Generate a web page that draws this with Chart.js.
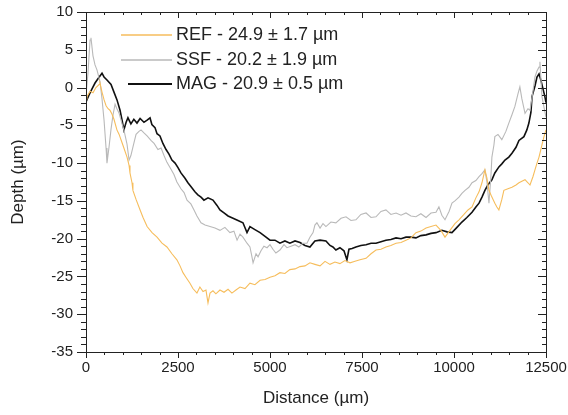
<!DOCTYPE html>
<html lang="en">
  <head>
    <meta charset="UTF-8" />
    <title>Depth profiles</title>
    <style>
      html, body { margin: 0; padding: 0; background: #fff; }
      #wrap { width: 568px; height: 415px; }
    </style>
  </head>
  <body>
    <div id="wrap">
      <canvas id="chart" width="568" height="415"></canvas>
    </div>
    <script src="https://cdn.jsdelivr.net/npm/chart.js"></script>
    <script>
      // values (distance in µm, depth in µm)
      const labels = ["REF - 24.9 \u00b1 1.7 \u00b5m", "SSF - 20.2 \u00b1 1.9 \u00b5m", "MAG - 20.9 \u00b1 0.5 \u00b5m"];

      const refX = [0, 25, 110, 190, 270, 355, 380, 435, 490, 545, 600, 650, 705, 760, 840, 900, 980, 1030, 1115, 1170,
        1195, 1250, 1275, 1360, 1470, 1550, 1660, 1795, 1930, 2065, 2200, 2335, 2470, 2555, 2635, 2715, 2825, 2905, 3015, 3095,
        3180, 3260, 3315, 3370, 3450, 3530, 3640, 3750, 3860, 3965, 4075, 4185, 4320, 4455, 4590, 4730, 4865, 5000, 5135, 5270,
        5405, 5540, 5680, 5815, 5950, 6085, 6220, 6360, 6495, 6630, 6765, 6900, 7035, 7175, 7310, 7445, 7610, 7745, 7880, 8015,
        8150, 8285, 8425, 8560, 8695, 8830, 8965, 9100, 9240, 9375, 9510, 9645, 9755, 9890, 10025, 10135, 10270, 10380, 10490, 10595,
        10680, 10760, 10840, 10895, 10950, 11030, 11110, 11165, 11220, 11300, 11355, 11465, 11575, 11685, 11765, 11845, 11930, 12010, 12065, 12145,
        12200, 12255, 12310, 12390, 12445, 12500];
      const refY = [-1.5, -1.2, -0.5, -0.7, 0.0, 0.4, 0.6, -0.6, -1.6, -2.4, -2.8, -3.0, -3.5, -4.2, -5.6, -6.2, -7.3, -8.0, -9.2, -10.3,
        -11.3, -12.6, -13.6, -14.8, -16.2, -17.2, -18.4, -19.2, -19.8, -20.6, -21.1, -22.0, -22.8, -23.6, -24.5, -25.1, -25.9, -26.6, -27.2, -26.4,
        -27.0, -26.8, -28.5, -27.2, -26.9, -27.3, -26.8, -27.1, -26.7, -27.2, -26.8, -26.4, -26.6, -25.9, -26.1, -25.5, -25.4, -25.1, -24.9, -24.5,
        -24.6, -24.1, -24.0, -23.7, -23.6, -23.2, -23.4, -23.6, -23.0, -23.4, -23.1, -23.3, -22.9, -23.2, -23.0, -22.8, -22.6, -22.0, -21.5, -21.4,
        -21.1, -20.9, -20.6, -20.5, -20.2, -19.9, -19.2, -19.0, -18.6, -18.4, -18.2, -18.9, -19.8, -18.9, -18.0, -17.5, -16.8, -16.2, -15.8, -14.6,
        -13.8, -12.6, -10.9, -12.0, -13.6, -14.5, -15.3, -15.8, -16.2, -14.8, -13.6, -13.4, -13.2, -12.9, -12.6, -12.4, -12.2, -12.6, -12.9, -11.8,
        -10.9, -10.0, -9.2, -7.6, -6.5, -5.6];

      const ssfX = [0, 55, 110, 135, 190, 245, 300, 380, 435, 490, 545, 570, 625, 680, 735, 790, 840, 900, 980, 1030,
        1115, 1170, 1220, 1275, 1360, 1440, 1495, 1575, 1660, 1765, 1850, 1955, 2040, 2120, 2200, 2310, 2390, 2470, 2580, 2665,
        2745, 2850, 2935, 3015, 3125, 3235, 3370, 3505, 3640, 3775, 3910, 4020, 4105, 4185, 4265, 4375, 4455, 4510, 4540, 4620,
        4675, 4755, 4835, 4920, 5000, 5080, 5160, 5270, 5380, 5460, 5570, 5680, 5785, 5895, 6005, 6085, 6170, 6220, 6275, 6360,
        6440, 6520, 6655, 6790, 6930, 7065, 7200, 7335, 7470, 7610, 7745, 7880, 8015, 8150, 8285, 8425, 8560, 8695, 8830, 8965,
        9100, 9240, 9375, 9510, 9590, 9670, 9755, 9865, 9945, 10025, 10135, 10215, 10300, 10405, 10490, 10595, 10680, 10760, 10840, 10895,
        10950, 11000, 11030, 11085, 11110, 11195, 11300, 11410, 11490, 11575, 11655, 11740, 11790, 11845, 11930, 12010, 12065, 12145, 12200, 12255,
        12310, 12335, 12390, 12445, 12500];
      const ssfY = [-1.0, 2.0, 6.3, 6.6, 4.2, 3.0, 2.3, 0.8, -1.5, -4.3, -8.0, -10.0, -7.9, -5.5, -3.6, -2.2, -2.8, -3.4, -4.8, -5.6,
        -7.5, -9.6, -9.0, -7.9, -6.2, -5.8, -5.6, -6.0, -6.4, -7.0, -7.4, -8.2, -8.0, -9.0, -9.9, -10.8, -11.5, -12.5, -13.4, -13.9,
        -14.9, -15.4, -16.2, -17.0, -17.9, -18.2, -18.4, -18.6, -18.9, -18.5, -19.2, -19.0, -20.2, -19.4, -19.8, -20.6, -21.1, -22.4, -23.2, -22.0,
        -22.4, -21.6, -21.0, -21.2, -20.8, -21.4, -21.9, -21.5, -20.8, -21.2, -21.0, -20.8, -21.1, -20.6, -20.6, -19.8, -19.2, -18.2, -17.9, -18.6,
        -18.0, -18.4, -17.8, -17.9, -17.3, -17.1, -17.6, -17.5, -16.8, -16.6, -17.2, -17.1, -16.4, -16.2, -16.8, -16.6, -16.9, -16.6, -17.0, -17.1,
        -16.7, -17.2, -16.6, -16.5, -15.8, -16.9, -17.5, -16.4, -15.3, -15.0, -14.5, -14.0, -13.6, -13.2, -12.6, -12.3, -11.8, -11.4, -10.9, -12.5,
        -15.3, -12.0, -9.2, -7.6, -6.5, -6.2, -6.9, -5.8, -4.7, -3.6, -2.5, -0.8, 0.1, -1.5, -3.4, -2.8, -3.0, -0.5, 1.4, 2.2,
        2.7, 3.4, -1.2, -2.6, -3.9];

      const magX = [0, 80, 160, 245, 330, 435, 490, 570, 680, 760, 840, 925, 980, 1030, 1090, 1140, 1220, 1300, 1385, 1470,
        1575, 1660, 1740, 1790, 1875, 1930, 2010, 2090, 2175, 2255, 2335, 2420, 2500, 2580, 2690, 2770, 2850, 2960, 3040, 3125,
        3205, 3315, 3450, 3560, 3640, 3750, 3860, 3995, 4130, 4265, 4375, 4455, 4590, 4730, 4865, 5000, 5135, 5270, 5405, 5540,
        5680, 5815, 5950, 6085, 6220, 6360, 6520, 6630, 6710, 6790, 6900, 7010, 7090, 7145, 7230, 7335, 7470, 7610, 7745, 7880,
        8015, 8150, 8285, 8425, 8560, 8695, 8830, 8965, 9100, 9240, 9375, 9510, 9670, 9810, 9945, 10080, 10215, 10350, 10490, 10595,
        10680, 10760, 10840, 10920, 11030, 11110, 11220, 11300, 11385, 11490, 11575, 11685, 11765, 11900, 11980, 12035, 12090, 12120, 12200, 12255,
        12310, 12360, 12420, 12470, 12500];
      const magY = [-1.9, -1.0, -0.2, 0.6, 1.2, 1.9, 1.4, 1.0, 0.4, -0.6, -1.6, -3.0, -4.3, -5.6, -4.6, -4.0, -4.8, -4.2, -4.7, -4.1,
        -4.6, -4.3, -4.0, -4.9, -5.3, -6.1, -6.4, -7.4, -8.2, -8.8, -9.6, -10.0, -10.6, -11.3, -12.0, -12.6, -13.1, -13.8, -14.2, -14.5,
        -14.9, -14.6, -14.9, -15.6, -16.2, -16.6, -17.0, -17.3, -17.6, -17.9, -19.2, -18.4, -18.8, -19.2, -19.7, -20.2, -20.2, -20.6, -20.3, -20.6,
        -20.3, -20.5, -20.9, -21.1, -20.3, -20.2, -20.3, -20.9, -21.1, -21.5, -21.2, -21.6, -22.8, -21.4, -21.3, -21.1, -20.9, -20.8, -20.6, -20.6,
        -20.4, -20.2, -20.1, -19.9, -20.0, -19.8, -19.8, -19.9, -19.6, -19.5, -19.3, -19.2, -18.9, -19.1, -19.2, -18.5, -17.8, -17.2, -16.5, -15.8,
        -15.3, -14.5, -13.6, -12.9, -12.2, -11.3, -10.5, -10.1, -9.6, -9.2, -8.7, -7.9, -7.0, -6.5, -5.6, -4.7, -3.3, -1.2, 0.2, 1.4,
        1.8, 1.0, -0.2, -1.2, -2.0];

      const xTicks = [0, 2500, 5000, 7500, 10000, 12500];
      const yTicks = [-35, -30, -25, -20, -15, -10, -5, 0, 5, 10];

      const FONT = "'Liberation Sans', Arial, sans-serif";
      const INK = "#222";
      const COLORS = ["#f6bd5c", "#b9b9b9", "#111111"];
      const WIDTHS = [1.1, 1.1, 1.6];

      function toPoints(xs, ys) {
        return xs.map((x, i) => ({ x: x, y: ys[i] }));
      }

      // frame on all four sides plus major/minor tick marks, and the legend
      const frameTicks = {
        id: "frameTicks",
        afterDraw(chart) {
          const { ctx, chartArea: a, scales } = chart;
          const xs = scales.x, ys = scales.y;
          ctx.save();
          ctx.strokeStyle = INK;
          ctx.lineWidth = 1;
          ctx.strokeRect(a.left + 0.5, a.top + 0.5, a.right - a.left, a.bottom - a.top);
          ctx.beginPath();
          for (let v = 0; v <= 12500; v += 500) {
            const px = Math.round(xs.getPixelForValue(v)) + 0.5;
            const major = v % 2500 === 0;
            ctx.moveTo(px, a.bottom);
            ctx.lineTo(px, a.bottom + (major ? 6 : 3));
            ctx.moveTo(px, a.top);
            ctx.lineTo(px, a.top + (major ? 6 : 3));
          }
          for (let v = -35; v <= 10; v += 1) {
            const py = Math.round(ys.getPixelForValue(v)) + 0.5;
            const major = v % 5 === 0;
            ctx.moveTo(a.left, py);
            ctx.lineTo(a.left - (major ? 9 : 5), py);
            ctx.moveTo(a.right, py);
            ctx.lineTo(a.right - (major ? 8 : 4), py);
          }
          ctx.stroke();

          const rows = [35, 60, 84];
          chart.data.datasets.forEach((ds, i) => {
            const y = rows[i];
            ctx.beginPath();
            ctx.strokeStyle = ds.borderColor;
            ctx.lineWidth = ds.borderWidth + 0.3;
            ctx.moveTo(i === 2 ? 128 : 121, y);
            ctx.lineTo(172, y);
            ctx.stroke();
            ctx.fillStyle = INK;
            ctx.font = "18px " + FONT;
            ctx.textBaseline = "middle";
            ctx.textAlign = "left";
            ctx.fillText(ds.label, 176, y);
          });
          ctx.restore();
        },
      };

      const ctx = document.getElementById("chart");
      new Chart(ctx, {
        type: "line",
        data: {
          datasets: [
            { label: labels[0], data: toPoints(refX, refY), borderColor: COLORS[0], borderWidth: WIDTHS[0] },
            { label: labels[1], data: toPoints(ssfX, ssfY), borderColor: COLORS[1], borderWidth: WIDTHS[1] },
            { label: labels[2], data: toPoints(magX, magY), borderColor: COLORS[2], borderWidth: WIDTHS[2] },
          ],
        },
        options: {
          responsive: false,
          animation: false,
          layout: { padding: { top: 12, right: 22, left: 0, bottom: 0 } },
          elements: { point: { radius: 0 }, line: { tension: 0 } },
          plugins: { legend: { display: false }, tooltip: { enabled: false } },
          scales: {
            x: {
              type: "linear",
              min: 0,
              max: 12500,
              afterBuildTicks: (s) => { s.ticks = xTicks.map((v) => ({ value: v })); },
              afterFit: (s) => { s.height = 63; s.paddingLeft = 0; s.paddingRight = 0; },
              grid: { display: false, drawTicks: false },
              border: { display: false },
              ticks: { padding: 7, color: INK, font: { family: FONT, size: 15 }, maxRotation: 0, callback: (v) => String(v) },
              title: { display: true, text: "Distance (\u00b5m)", color: INK, font: { family: FONT, size: 17 }, padding: { top: 0, bottom: 6 } },
            },
            y: {
              type: "linear",
              min: -35,
              max: 10,
              afterBuildTicks: (s) => { s.ticks = yTicks.map((v) => ({ value: v })); },
              afterFit: (s) => { s.width = 86; s.paddingTop = 0; s.paddingBottom = 0; },
              grid: { display: false, drawTicks: false },
              border: { display: false },
              ticks: { padding: 13, color: INK, font: { family: FONT, size: 15 }, callback: (v) => String(v) },
              title: { display: true, text: "Depth (\u00b5m)", color: INK, font: { family: FONT, size: 17 }, padding: { top: 8, bottom: 0 } },
            },
          },
        },
        plugins: [frameTicks],
      });
    </script>
  </body>
</html>
